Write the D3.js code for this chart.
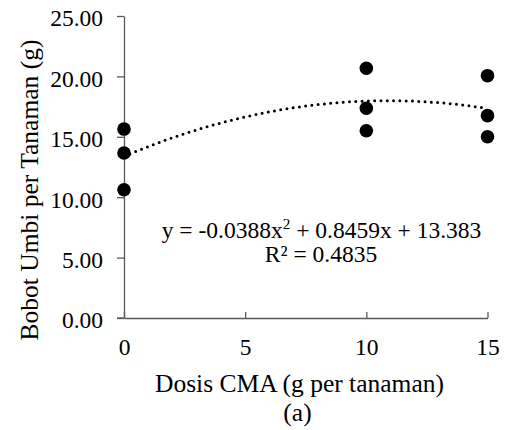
<!DOCTYPE html>
<html>
<head>
<meta charset="utf-8">
<script src="https://cdn.jsdelivr.net/npm/d3@7"></script>
<style>
  html, body { margin: 0; padding: 0; background: #fff; }
  svg { display: block; }
</style>
</head>
<body>
<svg id="chart" width="506" height="430"></svg>
<script>
// ---- data ----
const doseX = [0, 0, 0, 10, 10, 10, 15, 15, 15];
const weightY = [15.64, 13.66, 10.62, 20.67, 17.36, 15.50, 20.06, 16.75, 15.00];
const xTicks = [0, 5, 10, 15];
const yTicks = [0, 5, 10, 15, 20, 25];
const fitCoef = [13.383, 0.8459, -0.0388]; // c0 + c1 x + c2 x^2 (from the chart's equation)
const rSquared = "0.4835";
const xTitle = "Dosis CMA (g per tanaman)";
const yTitle = "Bobot Umbi per Tanaman (g)";
const panelLabel = "(a)";

// ---- layout ----
const FONT = "'Liberation Serif', 'Times New Roman', serif";
const svg = d3.select("#chart");
const x = d3.scaleLinear().domain([0, 15]).range([124, 487.5]);
const y = d3.scaleLinear().domain([0, 25]).range([318, 16]);
const axisColor = "#595959";
const tickFs = 23.5, titleFs = 25.5, eqFs = 23.5;

// y axis
const gy = svg.append("g").attr("transform", `translate(${x(0)},0)`)
  .call(d3.axisLeft(y).tickValues(yTicks).tickFormat(d3.format(".2f"))
    .tickSize(7).tickSizeOuter(0).tickPadding(14));
gy.attr("font-family", null).attr("font-size", null);
gy.select(".domain").attr("stroke", axisColor).attr("stroke-width", 1.3);
gy.selectAll(".tick line").attr("stroke", axisColor).attr("stroke-width", 1.3);
gy.selectAll(".tick text").style("font-family", FONT).style("font-size", tickFs + "px").attr("fill", "#000").attr("dy", "0.42em");

// x axis
const gx = svg.append("g").attr("transform", `translate(0,${y(0)})`)
  .call(d3.axisBottom(x).tickValues(xTicks).tickFormat(d3.format("d"))
    .tickSize(-6).tickSizeOuter(0).tickPadding(20));
gx.attr("font-family", null).attr("font-size", null);
gx.select(".domain").attr("stroke", axisColor).attr("stroke-width", 1.3);
gx.selectAll(".tick line").attr("stroke", axisColor).attr("stroke-width", 1.3);
gx.selectAll(".tick text").style("font-family", FONT).style("font-size", tickFs + "px").attr("fill", "#000");
svg.append("line").attr("x1", x(0) - 7).attr("x2", x(0)).attr("y1", y(0)).attr("y2", y(0))
  .attr("stroke", axisColor).attr("stroke-width", 1.3);

// trend line (polynomial from the chart's equation)
const fx = d3.range(0, 15.001, 0.1);
const line = d3.line().x(d => x(d)).y(d => y(fitCoef[0] + fitCoef[1] * d + fitCoef[2] * d * d));
svg.append("path").datum(fx).attr("d", line)
  .attr("fill", "none").attr("stroke", "#000").attr("stroke-width", 3)
  .attr("stroke-linecap", "round").attr("stroke-dasharray", "0,6.3");

// points
svg.append("g").selectAll("circle").data(doseX).join("circle")
  .attr("cx", d => x(d)).attr("cy", (d, i) => y(weightY[i])).attr("r", 6.8).attr("fill", "#000");

function txt(sel) { return sel.style("font-family", FONT).attr("fill", "#000"); }

// equation
const eq = txt(svg.append("text")).attr("x", 321.5).attr("y", 238).attr("text-anchor", "middle").style("font-size", eqFs + "px");
eq.append("tspan").text(`y = ${fitCoef[2]}x`);
eq.append("tspan").style("font-size", (eqFs * 0.65) + "px").attr("dy", -9).text("2");
eq.append("tspan").attr("dy", 9).text(` + ${fitCoef[1]}x + ${fitCoef[0]}`);
txt(svg.append("text")).attr("x", 321).attr("y", 262).attr("text-anchor", "middle").style("font-size", eqFs + "px")
  .text(`R² = ${rSquared}`);

// axis titles
txt(svg.append("text")).attr("x", 299.5).attr("y", 392).attr("text-anchor", "middle").style("font-size", titleFs + "px").text(xTitle);
txt(svg.append("text")).attr("transform", "translate(38,190) rotate(-90)").attr("text-anchor", "middle").style("font-size", titleFs + "px").text(yTitle);
txt(svg.append("text")).attr("x", 297.5).attr("y", 421).attr("text-anchor", "middle").style("font-size", titleFs + "px").text(panelLabel);
</script>
</body>
</html>
